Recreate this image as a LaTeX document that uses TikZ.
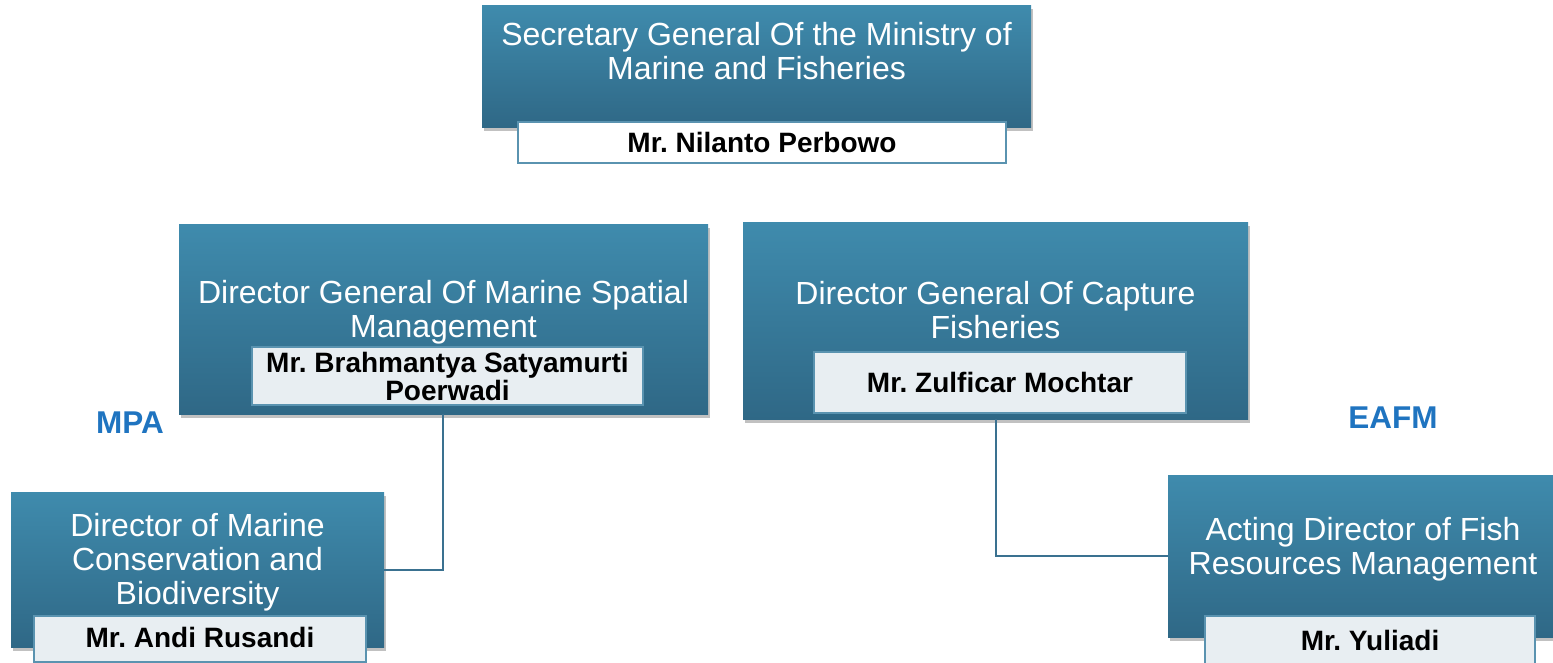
\documentclass[tikz,border=0pt]{standalone}
\usepackage{fontspec}
\setmainfont{Liberation Sans}
\usetikzlibrary{shadows}
\definecolor{btop}{HTML}{3F8BAD}
\definecolor{bbot}{HTML}{2F6886}
\definecolor{nfill}{HTML}{E8EEF2}
\definecolor{nborder}{HTML}{5A93B0}
\definecolor{lineblue}{HTML}{3A7190}
\definecolor{lblblue}{HTML}{1F74C0}
\frenchspacing
\tikzset{
  bluebox/.style={rectangle, draw=none, top color=btop, bottom color=bbot, inner sep=0pt,
    drop shadow={shadow xshift=2pt, shadow yshift=-4pt, opacity=0.35, fill=black!70}},
  namebox/.style={rectangle, draw=nborder, line width=1.5pt, fill=nfill, inner sep=0pt},
  titletext/.style={text=white, align=center, font=\fontsize{32}{34}\selectfont, inner sep=0pt},
  nametext/.style={text=black, align=center, font=\fontsize{28}{28}\selectfont\bfseries, inner sep=0pt},
  grouplbl/.style={text=lblblue, font=\fontsize{31.5}{32}\selectfont\bfseries, inner sep=0pt},
  conn/.style={draw=lineblue, line width=1.5pt}
}
\begin{document}
\begin{tikzpicture}[x=1pt,y=-1pt]
\useasboundingbox (0,0) rectangle (1553,662);
\coordinate (c1) at (443,570);
\coordinate (c2) at (996,556);
% top box
\node[bluebox, minimum width=549pt, minimum height=122pt] (sg) at (756.5,66) {};
\node[titletext] (sgt) at (756.5,51) {Secretary General Of the Ministry of\\Marine and Fisheries};
\node[namebox, fill=white, minimum width=488pt, minimum height=41pt] (sgn) at (762,142.5) {};
\node[nametext] (sgnt) at (762,142.5) {Mr. Nilanto Perbowo};
% DG marine spatial
\node[bluebox, minimum width=529pt, minimum height=190pt] (dgm) at (443.5,319) {};
\node[titletext] (dgmt) at (443.5,312) {Director General Of Marine Spatial\\Management};
\node[namebox, minimum width=391pt, minimum height=58pt] (dgmn) at (447.5,376) {};
\node[nametext] (dgmnt) at (447.5,376) {Mr. Brahmantya Satyamurti\\Poerwadi};
% DG capture fisheries
\node[bluebox, minimum width=505pt, minimum height=197pt] (dgc) at (995.5,320.5) {};
\node[titletext] (dgct) at (995.5,310) {Director General Of Capture\\Fisheries};
\node[namebox, minimum width=372pt, minimum height=61pt] (dgcn) at (1000,382.5) {};
\node[nametext] (dgcnt) at (1000,382.5) {Mr. Zulficar Mochtar};
% director marine conservation
\node[bluebox, minimum width=373pt, minimum height=155pt] (dmc) at (197.5,569.5) {};
\node[titletext] (dmct) at (197.5,562) {Director of Marine\\Conservation and\\Biodiversity};
\node[namebox, minimum width=332pt, minimum height=46pt] (dmcn) at (200,639) {};
\node[nametext] (dmcnt) at (200,637) {Mr. Andi Rusandi};
% acting director
\node[bluebox, minimum width=385pt, minimum height=162pt] (adf) at (1360.5,556) {};
\node[titletext] (adft) at (1363,549.5) {Acting Director of Fish\\Resources Management};
\node[namebox, minimum width=330pt, minimum height=50pt] (adfn) at (1370,641) {};
\node[nametext] (adfnt) at (1370,640) {Mr. Yuliadi};
% connectors
\draw[conn] (dgm.south -| c1) -- (c1) -- (dmc.east |- c1);
\draw[conn] (dgc.south -| c2) -- (c2) -- (adf.west |- c2);
% group labels
\node[grouplbl] (mpa) at (130,423) {MPA};
\node[grouplbl] (eafm) at (1393,418) {EAFM};
\end{tikzpicture}
\end{document}
